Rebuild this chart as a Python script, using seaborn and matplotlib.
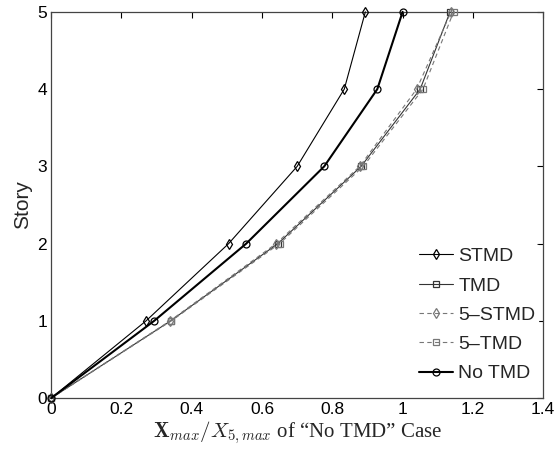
import matplotlib
matplotlib.use("Agg")
import matplotlib.pyplot as plt
import seaborn as sns

stories = [0, 1, 2, 3, 4, 5]
stmd = [0, 0.27, 0.505, 0.70, 0.834, 0.894]
tmd = [0, 0.34, 0.645, 0.882, 1.050, 1.135]
stmd5 = [0, 0.338, 0.640, 0.878, 1.040, 1.138]
tmd5 = [0, 0.342, 0.650, 0.888, 1.058, 1.145]
no_tmd = [0, 0.293, 0.555, 0.777, 0.928, 1.0]

xticks = [0, 0.2, 0.4, 0.6, 0.8, 1.0, 1.2, 1.4]
xticklabels = ["0", "0.2", "0.4", "0.6", "0.8", "1", "1.2", "1.4"]

sns.set_theme(style="white")
plt.rcParams["font.family"] = ["Liberation Sans", "DejaVu Sans"]
plt.rcParams["mathtext.fontset"] = "cm"

fig = plt.figure(figsize=(5.56, 4.55), dpi=100)
ax = fig.add_axes([0.092, 0.125, 0.885, 0.849])

series = [
    ("STMD", stmd, dict(marker="d", linestyle="-", color="black", lw=0.8, ms=5)),
    ("TMD", tmd, dict(marker="s", linestyle="-", color="#333333", lw=0.8, ms=4.5)),
    ("5\u2013STMD", stmd5, dict(marker="d", linestyle=(0, (4, 3)), color="#777777", lw=0.8, ms=5)),
    ("5\u2013TMD", tmd5, dict(marker="s", linestyle=(0, (4, 3)), color="#777777", lw=0.8, ms=4.5)),
    ("No TMD", no_tmd, dict(marker="o", linestyle="-", color="black", lw=1.5, ms=5)),
]

for name, xs, st in series:
    sns.lineplot(x=xs, y=stories, sort=False, orient="y", ax=ax, label=name,
                 color=st["color"], linewidth=st["lw"], linestyle=st["linestyle"],
                 marker=st["marker"], markersize=st["ms"],
                 markerfacecolor="none", markeredgecolor=st["color"],
                 markeredgewidth=0.9, clip_on=False, zorder=3)

ax.set_xlim(0, 1.4)
ax.set_ylim(0, 5)
ax.set_xticks(xticks)
ax.set_xticklabels(xticklabels)
ax.set_yticks(stories)
ax.tick_params(direction="in", length=4, width=0.8, top=True, right=True,
               labelsize=12.5, colors="black", pad=3)
for s in ax.spines.values():
    s.set_visible(True)
    s.set_color("#444444")
    s.set_linewidth(0.9)

ax.set_ylabel("Story", fontsize=15, labelpad=4)
ax.set_xlabel("$\\mathbf{X}_{max}/X_{5,max}$ of \u201cNo TMD\u201d Case",
              fontsize=15, family=["Liberation Serif", "DejaVu Serif"], labelpad=1)

leg = ax.legend(loc="lower right", fontsize=14, frameon=True, fancybox=False,
                edgecolor="white", facecolor="white", framealpha=1.0,
                handlelength=1.7, handletextpad=0.3,
                borderpad=0.15, labelspacing=0.6, bbox_to_anchor=(1.01, 0.008))

fig.savefig("out.png", dpi=100)
